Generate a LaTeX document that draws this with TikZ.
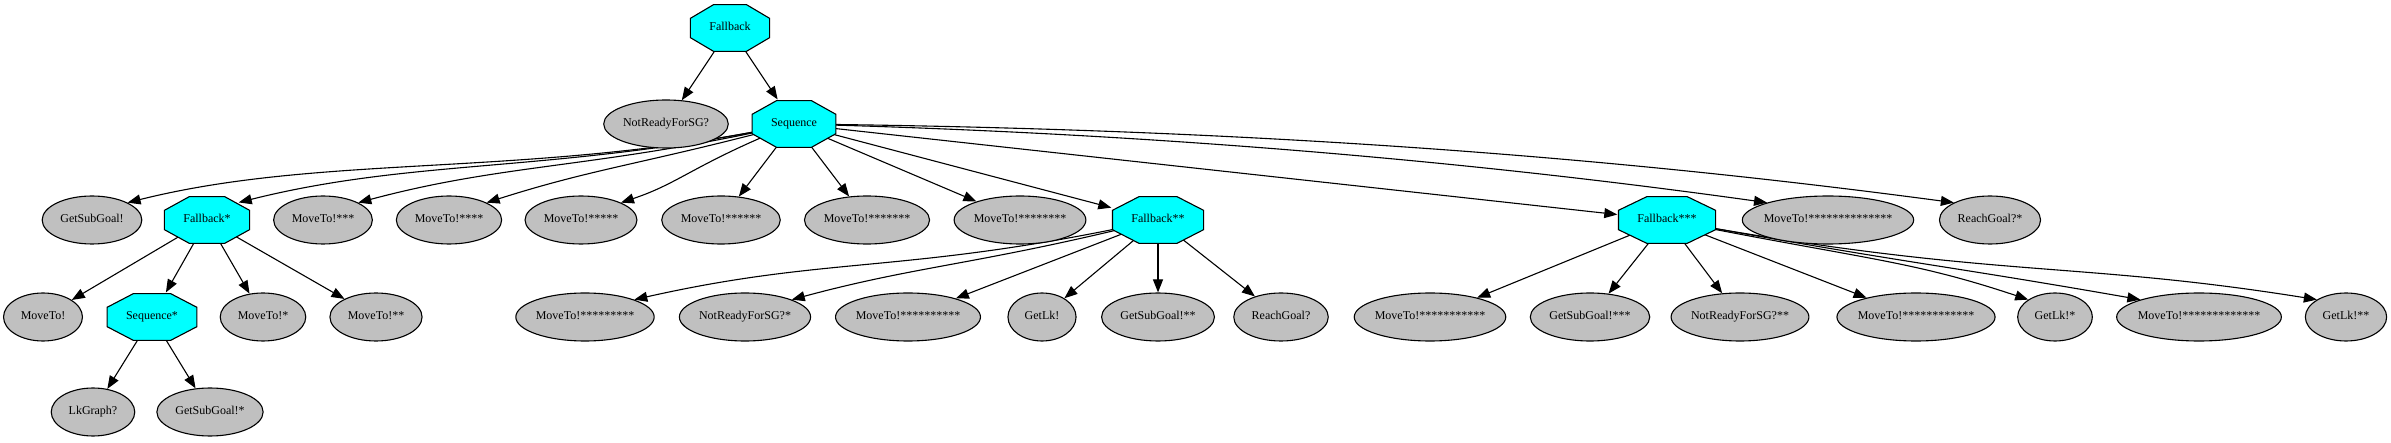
\documentclass[tikz,border=0pt]{standalone}
\usepackage{fontspec}
\setmainfont{Liberation Serif}
\usetikzlibrary{arrows.meta, shapes.geometric, calc}
\definecolor{ctrlcyan}{HTML}{00FFFF}
\definecolor{leafgray}{HTML}{C0C0C0}
\pgfdeclarelayer{links}
\pgfsetlayers{links,main}

\begin{document}
\begin{tikzpicture}[
    x=1pt, y=1pt,
    font=\fontsize{12pt}{14pt}\selectfont,
    line width=1.1pt,
    ctrl/.style={
        rectangle,
        inner xsep=19.5pt,
        minimum height=48pt,
        text height=8.5pt,
        text depth=2.5pt,
        path picture={
            \draw[fill=ctrlcyan, line width=1.1pt]
                let \p1=([shift={(0.6pt,0.6pt)}]path picture bounding box.south west),
                    \p2=([shift={(-0.6pt,-0.6pt)}]path picture bounding box.north east),
                    \n1={0.293*(\x2-\x1)},
                    \n2={0.293*(\y2-\y1)}
                in (\x1+\n1,\y1) -- (\x2-\n1,\y1) -- (\x2,\y1+\n2) -- (\x2,\y2-\n2)
                -- (\x2-\n1,\y2) -- (\x1+\n1,\y2) -- (\x1,\y2-\n2) -- (\x1,\y1+\n2) -- cycle;
        }
    },
    leaf/.style={
        ellipse,
        draw,
        fill=leafgray,
        inner xsep=0pt,
        inner ysep=0pt,
        minimum width=60pt,
        minimum height=48pt,
        text height=8.5pt,
        text depth=2.5pt,
        execute at begin node={\setbox0=\hbox\bgroup},
        execute at end node={\egroup\hbox to \dimexpr0.778\wd0+21.2pt\relax{\hss\box0\hss}}
    },
    link/.style={
        -{Triangle[length=13pt,width=10pt]},
        line width=1.1pt
    }
]

\useasboundingbox (0,0) rectangle (2391,-443);

\node[ctrl] (fb0) at (730,-28) {Fallback};

\node[leaf] (nr0) at (666,-124) {NotReadyForSG?};
\node[ctrl] (seq0) at (794,-124) {Sequence};

\node[leaf] (gsg0) at (92,-220) {GetSubGoal!};
\node[ctrl] (fb1) at (207,-220) {Fallback*};
\node[leaf] (mv3) at (323,-220) {MoveTo!***};
\node[leaf] (mv4) at (449,-220) {MoveTo!****};
\node[leaf] (mv5) at (581,-220) {MoveTo!*****};
\node[leaf] (mv6) at (721,-220) {MoveTo!******};
\node[leaf] (mv7) at (867,-220) {MoveTo!*******};
\node[leaf] (mv8) at (1020,-220) {MoveTo!********};
\node[ctrl] (fb2) at (1158,-220) {Fallback**};
\node[ctrl] (fb3) at (1667,-220) {Fallback***};
\node[leaf] (mv14) at (1828,-220) {MoveTo!**************};
\node[leaf] (rg1) at (1990,-220) {ReachGoal?*};

\node[leaf] (mv0) at (43,-317) {MoveTo!};
\node[ctrl] (seq1) at (152,-317) {Sequence*};
\node[leaf] (mv1) at (263,-317) {MoveTo!*};
\node[leaf] (mv2) at (376,-317) {MoveTo!**};
\node[leaf] (mv9) at (585,-317) {MoveTo!*********};
\node[leaf] (nr1) at (745,-317) {NotReadyForSG?*};
\node[leaf] (mv10) at (908,-317) {MoveTo!**********};
\node[leaf] (gl0) at (1042,-317) {GetLk!};
\node[leaf] (gsg2) at (1158,-317) {GetSubGoal!**};
\node[leaf] (rg0) at (1281,-317) {ReachGoal?};
\node[leaf] (mv11) at (1430,-317) {MoveTo!***********};
\node[leaf] (gsg3) at (1590,-317) {GetSubGoal!***};
\node[leaf] (nr2) at (1740,-317) {NotReadyForSG?**};
\node[leaf] (mv12) at (1916,-317) {MoveTo!************};
\node[leaf] (gl1) at (2055,-317) {GetLk!*};
\node[leaf] (mv13) at (2199,-317) {MoveTo!*************};
\node[leaf] (gl2) at (2346,-317) {GetLk!**};

\node[leaf] (lk0) at (93,-412) {LkGraph?};
\node[leaf] (gsg1) at (210,-412) {GetSubGoal!*};

\begin{pgfonlayer}{links}
\draw[link] (fb0.center) -- (nr0);
\draw[link] (fb0.center) -- (seq0);

\draw[link] (seq0.center) .. controls +(-260,-55) and +(200,50) .. (gsg0.north east);
\draw[link] (seq0.center) .. controls +(-240,-50) and +(180,45) .. ($(fb1.north east)+(-12,-7)$);
\draw[link] (seq0.center) .. controls +(-200,-45) and +(150,40) .. (mv3.north east);
\draw[link] (seq0.center) .. controls +(-150,-40) and +(110,35) .. (mv4.north east);
\draw[link] (seq0.center) .. controls +(-100,-40) and +(60,20) .. (mv5.north east);
\draw[link] (seq0.center) -- (mv6);
\draw[link] (seq0.center) -- (mv7);
\draw[link] (seq0.center) -- (mv8);
\draw[link] (seq0.center) -- (fb2);
\draw[link] (seq0.center) -- (fb3);
\draw[link] (seq0.center) .. controls +(400,-10) and +(-250,35) .. (mv14.north west);
\draw[link] (seq0.center) .. controls +(500,-5) and +(-300,40) .. (rg1.north west);

\draw[link] (fb1.center) -- (mv0);
\draw[link] (fb1.center) -- (seq1);
\draw[link] (fb1.center) -- (mv1);
\draw[link] (fb1.center) -- (mv2);

\draw[link] (seq1.center) -- (lk0);
\draw[link] (seq1.center) -- (gsg1);

\draw[link] (fb2.center) .. controls +(-250,-55) and +(200,45) .. (mv9.north east);
\draw[link] (fb2.center) .. controls +(-180,-45) and +(130,35) .. (nr1.north east);
\draw[link] (fb2.center) -- (mv10);
\draw[link] (fb2.center) -- (gl0);
\draw[link] (fb2.center) -- (gsg2);
\draw[link] (fb2.center) -- (rg0);

\draw[link] (fb3.center) -- (mv11);
\draw[link] (fb3.center) -- (gsg3);
\draw[link] (fb3.center) -- (nr2);
\draw[link] (fb3.center) -- (mv12);
\draw[link] (fb3.center) .. controls +(200,-40) and +(-120,40) .. (gl1.north west);
\draw[link] (fb3.center) .. controls +(250,-45) and +(-200,35) .. (mv13.north west);
\draw[link] (fb3.center) .. controls +(330,-60) and +(-250,40) .. (gl2.north west);
\end{pgfonlayer}

\end{tikzpicture}
\end{document}
